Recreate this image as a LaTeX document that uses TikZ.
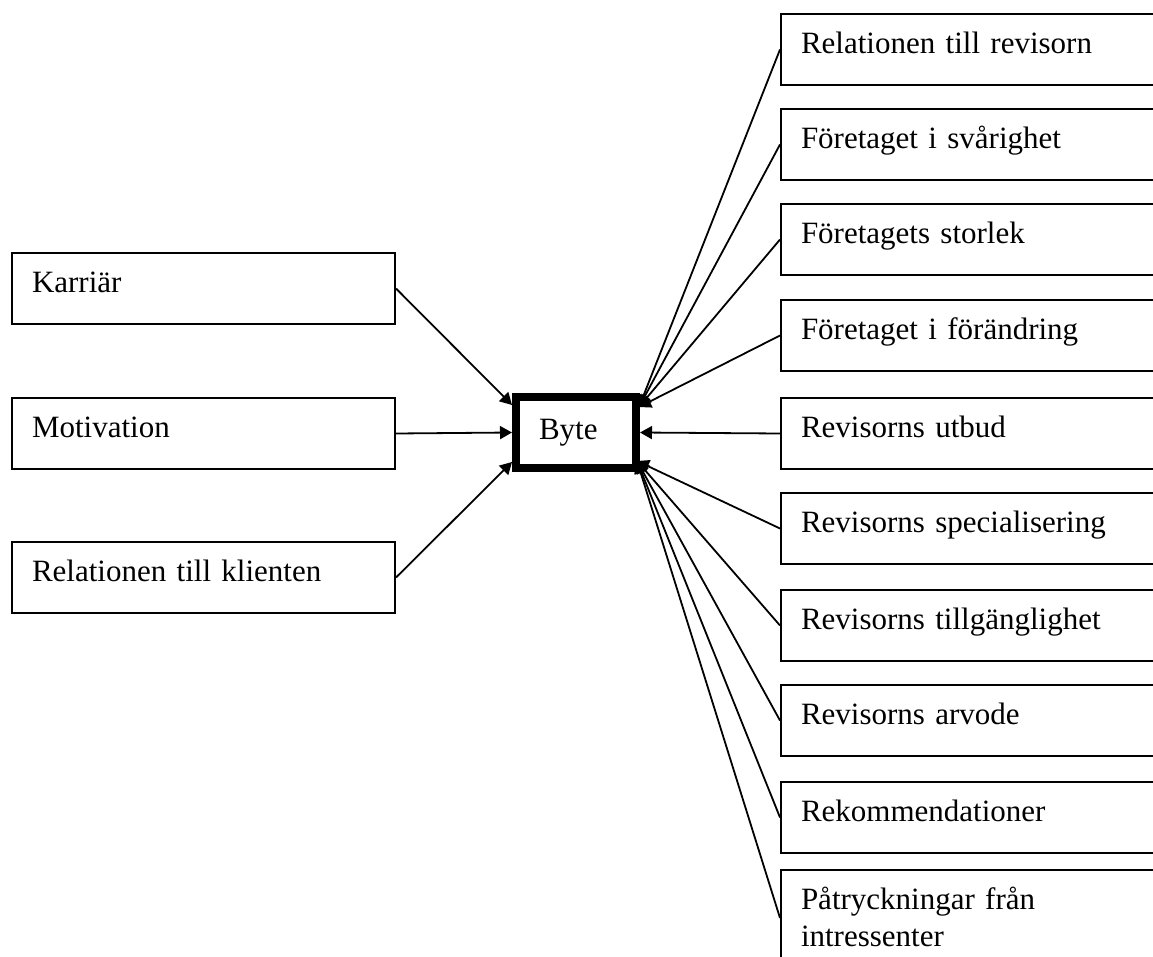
\documentclass[tikz,border=0pt]{standalone}
\usepackage{fontspec}
\setmainfont{Liberation Serif}
\usetikzlibrary{arrows.meta,calc}

\tikzset{
  factor/.style={draw, line width=2pt, rectangle, anchor=north west,
    minimum height=71pt, inner xsep=20pt, inner ysep=0pt,
    text height=24pt, text depth=16pt, align=left,
    font=\fontsize{31}{37}\selectfont},
  leftfactor/.style={factor, text width=343pt},
  rightfactor/.style={factor, text width=420pt},
  hub/.style={draw, line width=8pt, rectangle, minimum width=120pt,
    minimum height=71pt, text width=74pt, inner xsep=23pt, align=left,
    text height=22pt, text depth=9pt, font=\fontsize{31}{37}\selectfont},
  link/.style={line width=1.8pt, -{Triangle[length=12pt,width=13pt]}}
}

\begin{document}
\begin{tikzpicture}[x=1pt,y=-1pt]
  \useasboundingbox (0,0) rectangle (1153,957);
  \clip (0,0) rectangle (1153,957);

  % central box
  \node[hub] (byte) at (576,432.5) {Byte};

  % factors on the left
  \node[leftfactor] (karriar) at (11,252) {Karriär};
  \node[leftfactor] (motiv)   at (11,397) {Motivation};
  \node[leftfactor] (klient)  at (11,541) {Relationen till klienten};

  % factors on the right
  \node[rightfactor] (r1) at (780,13)  {Relationen till revisorn};
  \node[rightfactor] (r2) at (780,108) {Företaget i svårighet};
  \node[rightfactor] (r3) at (780,203) {Företagets storlek};
  \node[rightfactor] (r4) at (780,299) {Företaget i förändring};
  \node[rightfactor] (r5) at (780,397) {Revisorns utbud};
  \node[rightfactor] (r6) at (780,492) {Revisorns specialisering};
  \node[rightfactor] (r7) at (780,589) {Revisorns tillgänglighet};
  \node[rightfactor] (r8) at (780,684) {Revisorns arvode};
  \node[rightfactor] (r9) at (780,781) {Rekommendationer};
  \node[rightfactor, minimum height=96pt, text depth=42pt] (r10) at (780,869)
    {Påtryckningar från\\intressenter};

  % arrow end points on the central box
  \coordinate (tl) at ([shift={(0,12)}]byte.north west);
  \coordinate (ll) at (byte.west);
  \coordinate (bl) at ([shift={(0,-10)}]byte.south west);
  \coordinate (tr) at ([shift={(-1,14)}]byte.north east);
  \coordinate (rr) at (byte.east);
  \coordinate (br) at ([shift={(-3,-11)}]byte.south east);

  % connectors
  \draw[link] (karriar.east) -- (tl);
  \draw[link] (motiv.east) -- (ll);
  \draw[link] (klient.east) -- (bl);

  \foreach \n in {r1,r2,r3,r4} \draw[link] (\n.west) -- (tr);
  \draw[link] (r5.west) -- (rr);
  \foreach \n in {r6,r7,r8,r9,r10} \draw[link] (\n.west) -- (br);
\end{tikzpicture}
\end{document}
